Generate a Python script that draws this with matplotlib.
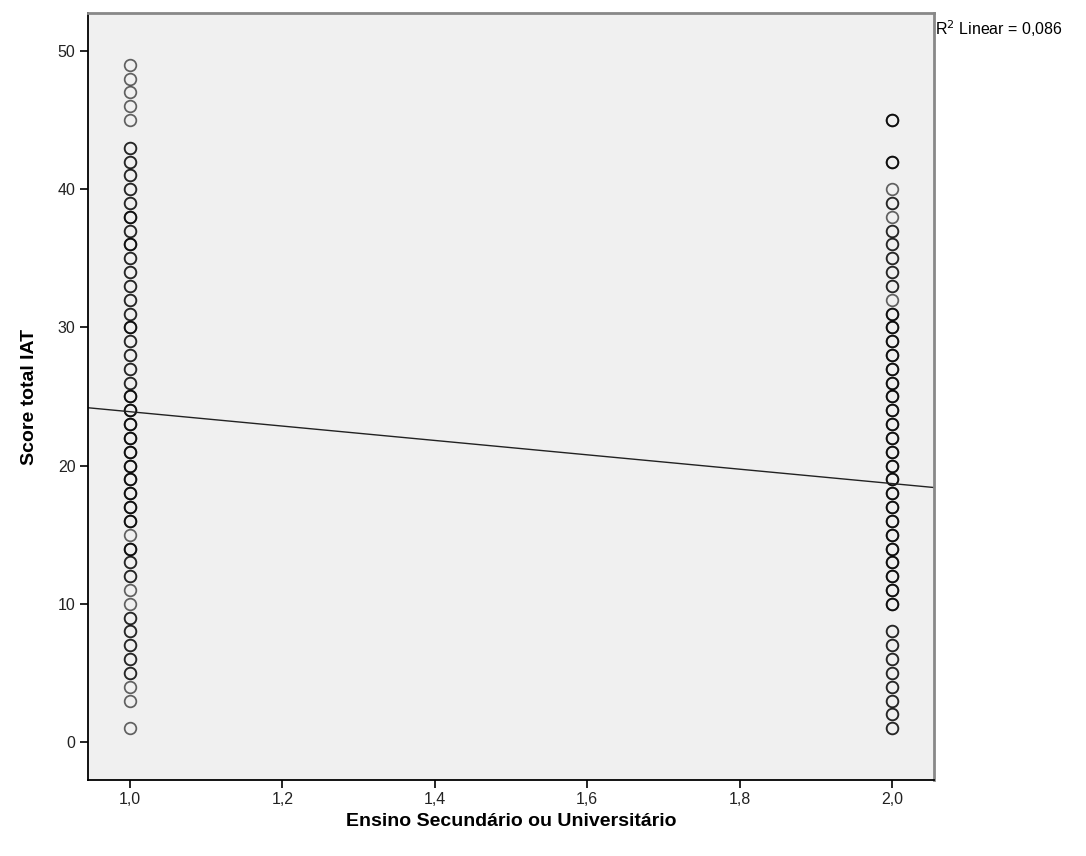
import matplotlib
matplotlib.use("Agg")
import matplotlib.pyplot as plt
import numpy as np

plt.rcParams['font.family'] = ['Liberation Sans', 'DejaVu Sans']

# group 1 = Ensino Secundario, group 2 = Universitario
# score values and how many cases sit on each (darker circle = more cases)
sec_scores = [1, 3, 4, 5, 6, 7, 8, 9, 10, 11, 12, 13, 14, 15, 16, 17, 18, 19, 20,
              21, 22, 23, 24, 25, 26, 27, 28, 29, 30, 31, 32, 33, 34, 35, 36, 37,
              38, 39, 40, 41, 42, 43, 45, 46, 47, 48, 49]
sec_counts = [1, 1, 1, 2, 2, 2, 2, 2, 1, 1, 2, 2, 3, 1, 3, 3, 3, 3, 3,
              3, 3, 3, 3, 3, 2, 2, 2, 2, 3, 2, 2, 2, 2, 2, 3, 2,
              3, 2, 2, 2, 2, 2, 1, 1, 1, 1, 1]

uni_scores = [1, 2, 3, 4, 5, 6, 7, 8, 10, 11, 12, 13, 14, 15, 16, 17, 18, 19, 20,
              21, 22, 23, 24, 25, 26, 27, 28, 29, 30, 31, 32, 33, 34, 35, 36, 37,
              38, 39, 40, 42, 45]
uni_counts = [2, 2, 2, 2, 2, 2, 2, 2, 3, 3, 3, 3, 3, 3, 3, 3, 3, 3, 3,
              3, 3, 3, 3, 3, 3, 3, 3, 3, 3, 3, 1, 2, 2, 2, 2, 2,
              1, 2, 1, 3, 3]

# fitted linear line (value at x=1 and x=2)
fit_x = [1.0, 2.0]
fit_y = [23.9, 18.7]
r2_text = "R$^2$ Linear = 0,086"

fig = plt.figure(figsize=(10.86, 8.56), dpi=100)
ax = fig.add_axes([0.081, 0.0888, 0.779, 0.896])
ax.set_facecolor('#f0f0f0')

for xval, scores, counts in [(1.0, sec_scores, sec_counts), (2.0, uni_scores, uni_counts)]:
    for s, c in zip(scores, counts):
        for k in range(c):
            ax.plot([xval], [s], marker='o', markersize=8.4, markerfacecolor='none',
                    markeredgecolor='black', markeredgewidth=1.25, alpha=0.6,
                    linestyle='none')

xlim = (0.945, 2.055)
slope = (fit_y[1] - fit_y[0]) / (fit_x[1] - fit_x[0])
line_x = np.array(xlim)
line_y = fit_y[0] + slope * (line_x - fit_x[0])
ax.plot(line_x, line_y, color='#222222', linewidth=1.0)

ax.set_xlim(*xlim)
ax.set_ylim(-2.75, 52.75)
ax.set_xticks([1.0, 1.2, 1.4, 1.6, 1.8, 2.0])
ax.set_xticklabels(['1,0', '1,2', '1,4', '1,6', '1,8', '2,0'])
ax.set_yticks([0, 10, 20, 30, 40, 50])
ax.tick_params(direction='out', length=6, width=1.2, labelsize=11.5, pad=3,
               labelcolor='#222222')

for side in ['left', 'bottom']:
    ax.spines[side].set_color('black')
    ax.spines[side].set_linewidth(1.3)
for side in ['top', 'right']:
    ax.spines[side].set_color('#888888')
    ax.spines[side].set_linewidth(2.0)

ax.set_xlabel("Ensino Secundário ou Universitário", fontsize=14, fontweight='bold', labelpad=4)
ax.set_ylabel("Score total IAT", fontsize=14, fontweight='bold', labelpad=14)

fig.text(0.861, 0.967, r2_text, fontsize=11.5, ha='left', va='center')

fig.savefig('out.png', dpi=100)
